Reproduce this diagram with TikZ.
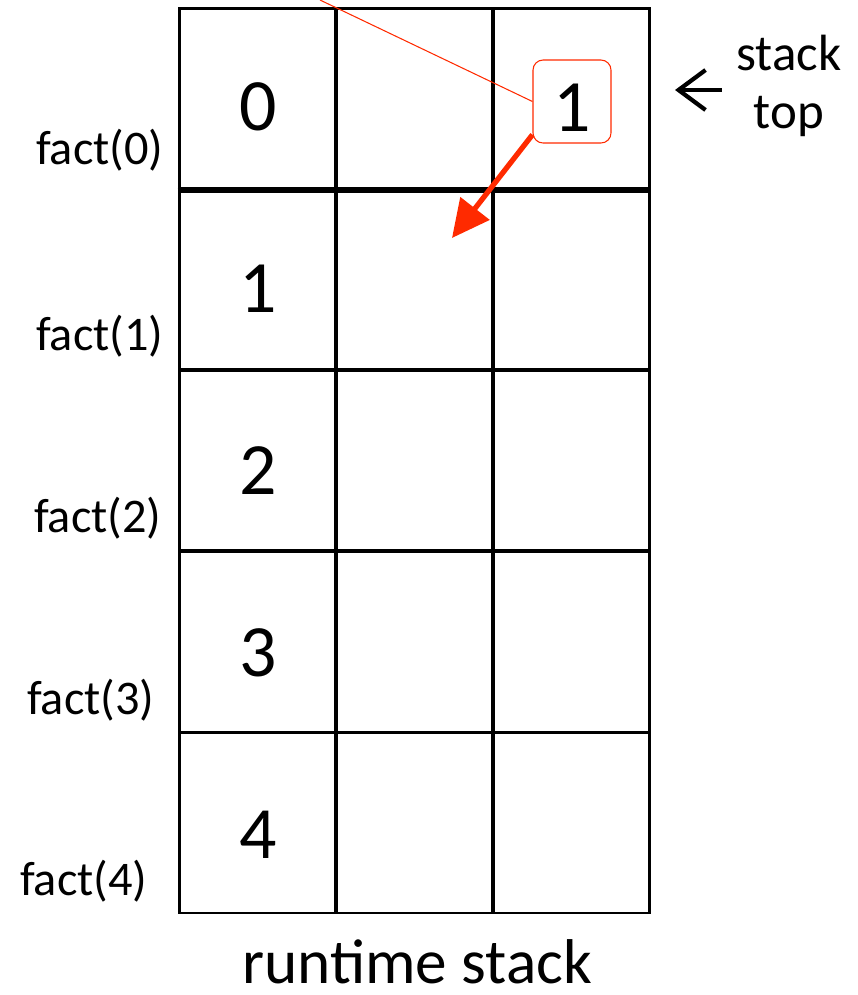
\documentclass[tikz,border=0pt]{standalone}
\usepackage{fontspec}
\setmainfont{Carlito}
\usetikzlibrary{arrows.meta, positioning}
\definecolor{cred}{HTML}{FF2A00}
\tikzset{
  every picture/.style={line width=1.7pt},
  cell/.style={draw=black, minimum width=3.14cm, minimum height=3.62cm, inner sep=0pt},
  num/.style={font=\fontsize{42}{48}\selectfont, inner sep=0pt},
  frame/.style={font=\fontsize{27.5}{32}\selectfont, anchor=east, inner sep=0pt},
  topbox/.style={draw=cred, line width=0.6pt, rounded corners=0.2cm, minimum width=1.56cm, minimum height=1.66cm,
    text height=1.18cm, text depth=0pt, inner sep=0pt, font=\fontsize{42}{48}\selectfont},
  note/.style={font=\fontsize{29}{33}\selectfont, align=center, inner sep=0pt},
  link/.style={draw=cred, line width=0.6pt},
  arrow/.style={-{Triangle[length=0.75cm, width=0.72cm]}, draw=cred, line width=3pt},
  toparrow/.style={{Straight Barb[length=0.54cm, width=0.8cm]}-, line width=2.4pt},
}

\begin{document}
\begin{tikzpicture}[x=0.02cm, y=-0.02cm]
  \useasboundingbox (0,0) rectangle (858,995);
  % five frames of the runtime stack, three cells each
  \foreach \r in {0,...,4} {
    \foreach \c in {0,1,2} {
      \node[cell] (c\r\c) at ({257.5+157*\c},{98.5+181*\r}) {};
    }
    \node[num] (n\r) at (258,{107+182*\r}) {\r};
  }
  \draw[line width=2.4pt] (c00.south west) -- (c02.south east);
  % call labels on the left
  \foreach \r/\x/\y in {0/165/150, 1/165/336, 2/163/518, 3/156/700, 4/149/881} {
    \node[frame] (f\r) at (\x,\y) {fact(\r)};
  }
  % returned value on top of the stack
  \node[topbox] (ret) at (572,101.5) {1};
  \coordinate (from) at (320,0);
  \draw[link] (from) -- (ret.west);
  \coordinate (down) at (452,238);
  \draw[arrow] (ret.220) -- (down);
  % stack top marker
  \node[note] (stacktop) at (789,86) {stack\\top};
  \coordinate (arrL) at (675,90);
  \coordinate (arrR) at (722,90);
  \draw[toparrow] (arrL) -- (arrR);
  \node[font=\fontsize{36}{40}\selectfont, inner sep=0pt] (title) at (417,962) {runtime stack};
\end{tikzpicture}
\end{document}
